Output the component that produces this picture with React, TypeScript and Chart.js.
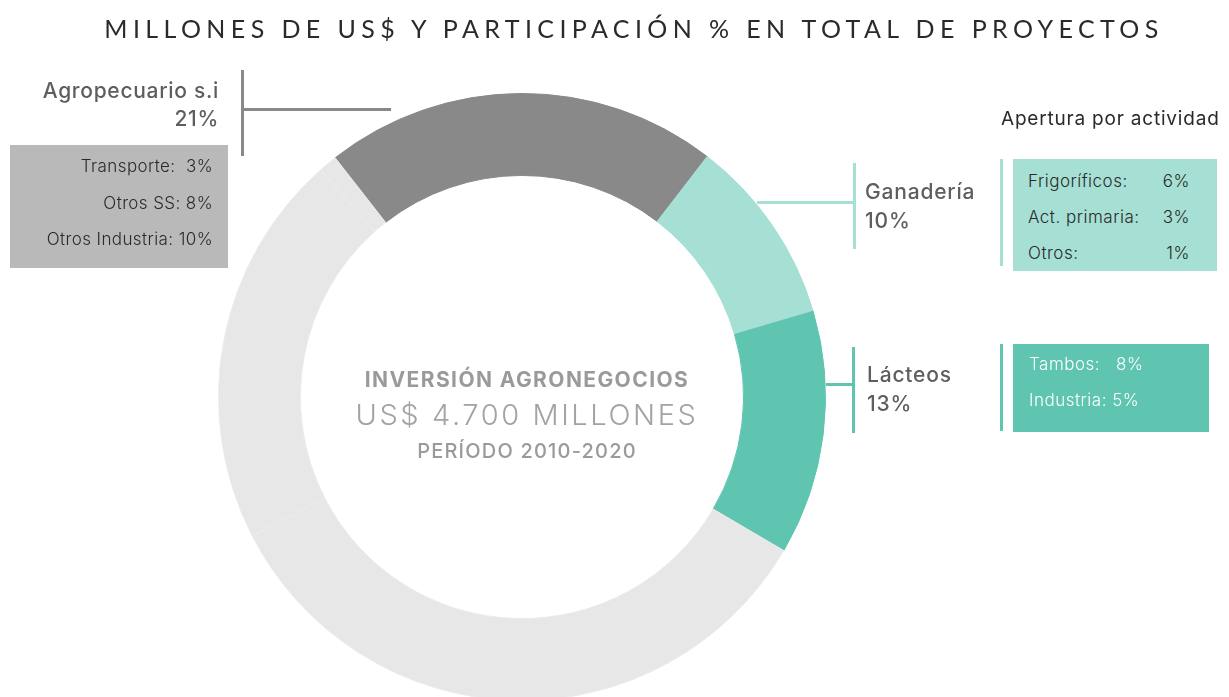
import React, { useEffect, useRef } from "react";
import { Chart, registerables } from "chart.js";

Chart.register(...registerables);

const categories = ["Agropecuario s.i", "Ganadería", "Lácteos", "Otros sectores A", "Otros sectores B", "Otros sectores C"];
const shares = [21, 10, 13, 34, 21, 1];
const sliceColors = ["#898989", "#a6dfd3", "#5fc5b0", "#e7e7e7", "#e7e7e7", "#e7e7e7"];

const agroLabels = ["Transporte:", "Otros SS:", "Otros Industria:"];
const agroValues = [3, 8, 10];
const ganaderiaLabels = ["Frigoríficos:", "Act. primaria:", "Otros:"];
const ganaderiaValues = [6, 3, 1];
const lacteosLabels = ["Tambos:", "Industria:"];
const lacteosValues = [8, 5];

const FONT = "Inter, 'Noto Sans', sans-serif";

type TxtProps = {
  x: number;
  y: number;
  size: number;
  align?: "left" | "right" | "center";
  weight?: number;
  color?: string;
  spacing?: number;
  font?: string;
  children: React.ReactNode;
};

function Txt({ x, y, size, align = "left", weight = 400, color = "#333", spacing = 0, font = FONT, children }: TxtProps) {
  const lh = Math.round(size * 1.3);
  const style: React.CSSProperties = {
    position: "absolute",
    top: y - lh / 2,
    lineHeight: lh + "px",
    fontSize: size,
    fontWeight: weight,
    color,
    letterSpacing: spacing,
    fontFamily: font,
    whiteSpace: "pre",
  };
  if (align === "left") style.left = x;
  if (align === "right") style.right = 1229 - x;
  if (align === "center") {
    style.left = x - 1000;
    style.width = 2000;
    style.textAlign = "center";
  }
  return <div style={style}>{children}</div>;
}

function Rect({ x, y, w, h, color }: { x: number; y: number; w: number; h: number; color: string }) {
  return <div style={{ position: "absolute", left: x, top: y, width: w, height: h, background: color }} />;
}

export default function App() {
  const ref = useRef<HTMLCanvasElement | null>(null);

  useEffect(() => {
    document.body.style.margin = "0";
    document.body.style.overflow = "hidden";
    if (!ref.current) return;
    const chart = new Chart(ref.current, {
      type: "doughnut",
      data: {
        labels: categories,
        datasets: [
          {
            data: shares,
            backgroundColor: sliceColors,
            borderColor: ["#898989", "#a6dfd3", "#5fc5b0", "#ececec", "#ececec", "#ececec"],
            borderWidth: 1,
          },
        ],
      },
      options: {
        responsive: false,
        animation: false,
        rotation: -38,
        cutout: "73%",
        layout: { padding: { left: 218, top: 93, right: 403, bottom: 19 } },
        plugins: {
          legend: { display: false },
          tooltip: { enabled: false },
          title: { display: false },
        },
      },
    });
    return () => chart.destroy();
  }, []);

  return (
    <div style={{ position: "relative", width: 1229, height: 697, overflow: "hidden", background: "#fff" }}>
      <canvas ref={ref} width={1229} height={720} style={{ position: "absolute", left: 0, top: 0 }} />

      <Txt x={634} y={28} size={25} align="center" color="#2a2a2a" spacing={5.4} font="Lato, 'Noto Sans', sans-serif">
        MILLONES DE US$ Y PARTICIPACIÓN % EN TOTAL DE PROYECTOS
      </Txt>

      {/* Agropecuario */}
      <Txt x={219} y={90} size={21} align="right" weight={500} color="#5e5e5e" spacing={0.7}>{categories[0]}</Txt>
      <Txt x={219} y={118} size={21} align="right" weight={500} color="#5e5e5e" spacing={0.7}>{shares[0]}%</Txt>
      <Rect x={241} y={70} w={3} h={86} color="#898989" />
      <Rect x={241} y={108} w={150} h={3} color="#898989" />
      <Rect x={10} y={145} w={218} h={123} color="#b9b9b9" />
      {agroLabels.map((l, i) => (
        <Txt key={l} x={213} y={166 + i * 36.5} size={17} align="right" weight={300} color="#2a2a2a" spacing={0.4}>
          {l}{i === 0 ? "  " : " "}{agroValues[i]}%
        </Txt>
      ))}

      {/* Ganadería */}
      <Rect x={757} y={201} w={98} h={3} color="#a6dfd3" />
      <Rect x={853} y={163} w={3} h={86} color="#a6dfd3" />
      <Txt x={865} y={191} size={21} weight={500} color="#5e5e5e" spacing={0.8}>{categories[1]}</Txt>
      <Txt x={865} y={220} size={21} weight={500} color="#5e5e5e" spacing={0.8}>{shares[1]}%</Txt>

      <Txt x={1001} y={118} size={19} weight={400} color="#2a2a2a" spacing={0.8}>Apertura por actividad</Txt>
      <Rect x={1000} y={159} w={3} h={107} color="#a6dfd3" />
      <Rect x={1013} y={159} w={204} h={112} color="#a6dfd3" />
      {ganaderiaLabels.map((l, i) => (
        <React.Fragment key={l}>
          <Txt x={1028} y={181 + i * 36} size={17} weight={300} color="#2a2a2a" spacing={0.5}>{l}</Txt>
          <Txt x={1190} y={181 + i * 36} size={17} align="right" weight={300} color="#2a2a2a" spacing={0.5}>{ganaderiaValues[i]}%</Txt>
        </React.Fragment>
      ))}

      {/* Lácteos */}
      <Rect x={826} y={383} w={28} h={3} color="#5fc5b0" />
      <Rect x={852} y={347} w={3} h={86} color="#5fc5b0" />
      <Txt x={867} y={374} size={21} weight={500} color="#5e5e5e" spacing={0.8}>{categories[2]}</Txt>
      <Txt x={867} y={403} size={21} weight={500} color="#5e5e5e" spacing={0.8}>{shares[2]}%</Txt>

      <Rect x={1000} y={344} w={3} h={87} color="#5fc5b0" />
      <Rect x={1013} y={344} w={196} h={88} color="#5fc5b0" />
      {lacteosLabels.map((l, i) => (
        <Txt key={l} x={1029} y={364 + i * 36} size={17} weight={300} color="#ffffff" spacing={0.5}>
          {l}{i === 0 ? "   " : " "}{lacteosValues[i]}%
        </Txt>
      ))}

      {/* Center */}
      <Txt x={527} y={379} size={21} align="center" weight={700} color="#9a9a9a" spacing={1.4}>INVERSIÓN AGRONEGOCIOS</Txt>
      <Txt x={527} y={415} size={29} align="center" weight={300} color="#a3a3a3" spacing={2.6}>US$ 4.700 MILLONES</Txt>
      <Txt x={527} y={451} size={20} align="center" weight={500} color="#9a9a9a" spacing={1.2}>PERÍODO 2010-2020</Txt>
    </div>
  );
}
